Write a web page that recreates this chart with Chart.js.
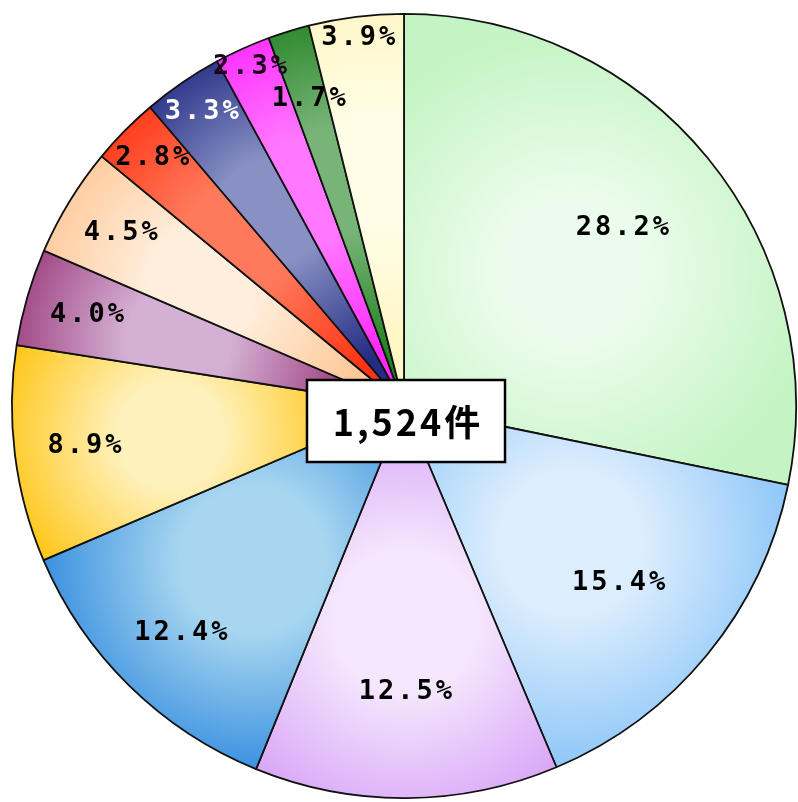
<!DOCTYPE html>
<html>
<head>
<meta charset="utf-8">
<script src="https://cdn.jsdelivr.net/npm/chart.js@4/dist/chart.umd.min.js"></script>
<style>
html,body{margin:0;padding:0;background:#fff;}
#wrap{width:798px;height:802px;position:relative;}
</style>
</head>
<body>
<div id="wrap"><canvas id="c"></canvas></div>
<script>
// ---- data ----
const categories = ['項目1','項目2','項目3','項目4','項目5','項目6','項目7','項目8','項目9','項目10','項目11','項目12'];
const percents = [28.2, 15.4, 12.5, 12.4, 8.9, 4.0, 4.5, 2.8, 3.3, 2.3, 1.7, 3.9];
const totalCount = '1,524件';

// ---- styles ----
const innerColors = ['#ecfcec','#dcedfd','#f4e6fd','#a8d6f0','#fff1bc','#d4b0d4','#ffeedd','#ff7a5c','#8890c4','#ff78ff','#78b478','#fffde6'];
const outerColors = ['#c4f4c4','#84c2f8','#d296f6','#2080dc','#ffc618','#9c3c7c','#ffc898','#ff3414','#242c84','#ff28ff','#248424','#fff6c4'];
const labelRadius = [0.72, 0.71, 0.73, 0.81, 0.82, 0.84, 0.845, 0.90, 0.91, 0.95, 0.82, 0.945];
const labelColors = ['#000','#000','#000','#000','#000','#000','#000','#000','#fff','#200020','#000','#000'];

const gradientPlugin = {
  id: 'sliceGradient',
  beforeDatasetsDraw(chart) {
    const ctx = chart.ctx;
    const meta = chart.getDatasetMeta(0);
    meta.data.forEach((arc, i) => {
      const mid = (arc.startAngle + arc.endAngle) / 2;
      const R = arc.outerRadius;
      const span = arc.endAngle - arc.startAngle;
      const f = span > 0.6 ? 0.55 : 0.6;
      const gx = arc.x + Math.cos(mid) * R * f;
      const gy = arc.y + Math.sin(mid) * R * f;
      const gr = span > 0.6 ? R * 0.62 : R * 0.45;
      const g = ctx.createRadialGradient(gx, gy, 0, gx, gy, gr);
      g.addColorStop(0, innerColors[i]);
      g.addColorStop(0.3, innerColors[i]);
      g.addColorStop(1, outerColors[i]);
      arc.options = Object.assign({}, arc.options, {backgroundColor: g});
    });
  }
};

const labelPlugin = {
  id: 'sliceLabels',
  afterDatasetsDraw(chart) {
    const ctx = chart.ctx;
    const meta = chart.getDatasetMeta(0);
    ctx.save();
    ctx.font = 'bold 27px "DejaVu Sans Mono"';
    ctx.letterSpacing = '3px';
    ctx.textAlign = 'center';
    ctx.textBaseline = 'middle';
    meta.data.forEach((arc, i) => {
      const mid = (arc.startAngle + arc.endAngle) / 2;
      const r = arc.outerRadius * labelRadius[i];
      const x = arc.x + Math.cos(mid) * r;
      const y = arc.y + Math.sin(mid) * r;
      ctx.fillStyle = labelColors[i];
      ctx.fillText(percents[i].toFixed(1) + '%', x + 1, y);
    });
    // center box
    const a = meta.data[0];
    const bw = 198, bh = 82;
    const bx = a.x + 2 - bw / 2, by = a.y + 15 - bh / 2;
    ctx.fillStyle = '#fff';
    ctx.fillRect(bx, by, bw, bh);
    ctx.lineWidth = 2.5;
    ctx.strokeStyle = '#000';
    ctx.strokeRect(bx, by, bw, bh);
    ctx.fillStyle = '#000';
    ctx.font = 'bold 36px "Noto Sans CJK JP"';
    ctx.letterSpacing = '3px';
    ctx.fillText(totalCount, a.x + 4, a.y + 16);
    ctx.restore();
  }
};

new Chart(document.getElementById('c'), {
  type: 'pie',
  data: {
    labels: categories,
    datasets: [{
      data: percents,
      backgroundColor: outerColors,
      borderColor: '#111',
      borderWidth: 1.8
    }]
  },
  options: {
    responsive: true,
    maintainAspectRatio: false,
    animation: false,
    layout: {padding: {left: 11, right: 1, top: 13, bottom: 3}},
    plugins: {legend: {display: false}, tooltip: {enabled: false}}
  },
  plugins: [gradientPlugin, labelPlugin]
});
</script>
</body>
</html>
